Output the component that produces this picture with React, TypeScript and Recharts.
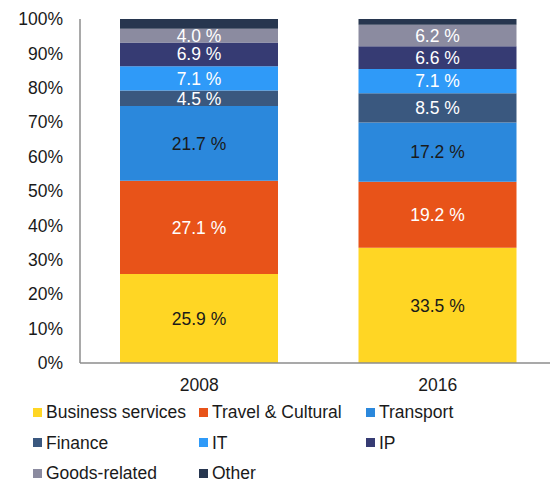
import { BarChart, Bar, XAxis, YAxis, Legend, LabelList } from 'recharts';

const years = ['2008', '2016'];
const seriesNames = [
  'Business services',
  'Travel & Cultural',
  'Transport',
  'Finance',
  'IT',
  'IP',
  'Goods-related',
  'Other'
];
const businessServices = [25.9, 33.5];
const travelCultural = [27.1, 19.2];
const transport = [21.7, 17.2];
const finance = [4.5, 8.5];
const it = [7.1, 7.1];
const ip = [6.9, 6.6];
const goodsRelated = [4.0, 6.2];
const other = [2.8, 1.7];
const yTicks = [0, 10, 20, 30, 40, 50, 60, 70, 80, 90, 100];

const seriesValues = [businessServices, travelCultural, transport, finance, it, ip, goodsRelated, other];

const COLORS = ['#FFD624', '#E85319', '#2B88DC', '#3A587F', '#2F9AF8', '#363B73', '#8B8BA0', '#27364F'];
const LABEL_COLORS = ['#1a1a1a', '#ffffff', '#1a1a1a', '#ffffff', '#ffffff', '#ffffff', '#ffffff', null];

const FONT = '"Liberation Sans", Arial, sans-serif';
const TEXT = '#1a1a1a';

const data = years.map((year, i) => {
  const row: Record<string, string | number> = { year };
  seriesNames.forEach((name, s) => {
    row[name] = seriesValues[s][i];
  });
  return row;
});

// legend grid: three columns, three rows
const LEGEND_COLS = [33, 199, 366];

function ChartLegend() {
  return (
    <div style={{ position: 'relative', height: 83, width: 550, fontFamily: FONT, fontSize: 17.5, color: TEXT }}>
      {seriesNames.map((name, i) => {
        const col = i % 3;
        const row = Math.floor(i / 3);
        return (
          <div
            key={name}
            style={{
              position: 'absolute',
              left: LEGEND_COLS[col],
              top: 4 + row * 30.5,
              height: 16,
              lineHeight: '16px',
              display: 'flex',
              alignItems: 'center',
              whiteSpace: 'nowrap'
            }}
          >
            <span style={{ display: 'inline-block', width: 9, height: 9, background: COLORS[i], marginRight: 4 }} />
            {name}
          </div>
        );
      })}
    </div>
  );
}

export default function App() {
  return (
    <div style={{ position: 'absolute', left: 0, top: 0, width: 550, height: 483, overflow: 'hidden', background: '#fff' }}>
      <BarChart
        width={557}
        height={483}
        data={data}
        margin={{ top: 19, right: 0, left: 0, bottom: 0 }}
        barSize={158}
      >
        <XAxis
          dataKey="year"
          height={37}
          tickSize={0}
          tickMargin={16}
          axisLine={{ stroke: '#8c8c8c', strokeWidth: 1.5 }}
          tickLine={false}
          tick={{ fill: TEXT, fontSize: 17.5, fontFamily: FONT }}
        />
        <YAxis
          width={80}
          domain={[0, 100]}
          ticks={yTicks}
          interval={0}
          tickSize={0}
          tickMargin={17}
          tickFormatter={(v: number) => `${v}%`}
          axisLine={{ stroke: '#8c8c8c', strokeWidth: 1.5 }}
          tickLine={false}
          tick={{ fill: TEXT, fontSize: 17.5, fontFamily: FONT }}
        />
        <Legend
          verticalAlign="bottom"
          wrapperStyle={{ left: 0, width: 550 }}
          content={() => <ChartLegend />}
        />
        {seriesNames.map((name, i) => (
          <Bar key={name} dataKey={name} stackId="a" fill={COLORS[i]} isAnimationActive={false}>
            {LABEL_COLORS[i] && (
              <LabelList
                dataKey={name}
                position="center"
                formatter={(v: number) => `${Number(v).toFixed(1)} %`}
                fill={LABEL_COLORS[i] as string}
                style={{ fontSize: 17.5, fontFamily: FONT }}
              />
            )}
          </Bar>
        ))}
      </BarChart>
    </div>
  );
}
